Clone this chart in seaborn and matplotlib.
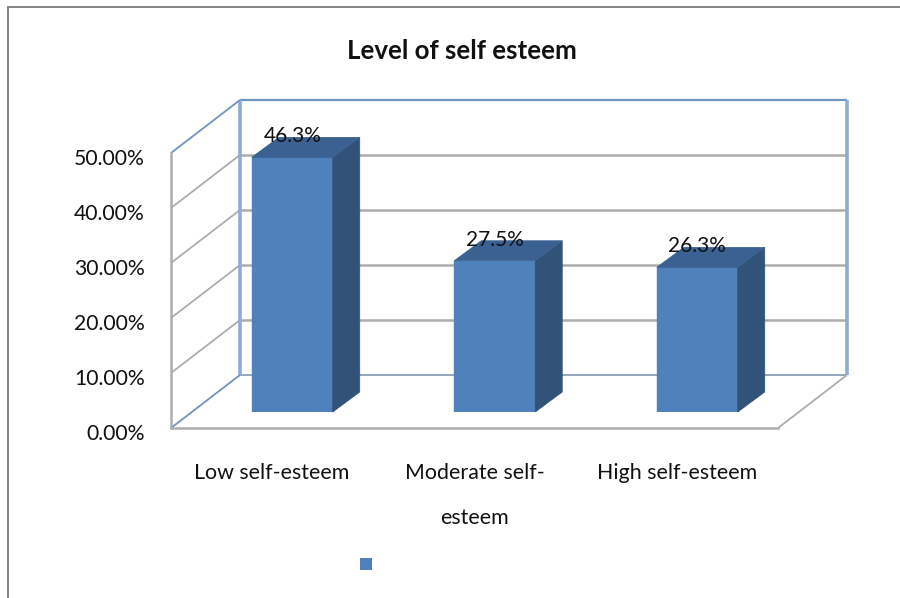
import matplotlib
matplotlib.use("Agg")
import matplotlib.pyplot as plt
import pandas as pd
import seaborn as sns
from matplotlib.lines import Line2D
from matplotlib.patches import Patch, Polygon
from matplotlib.transforms import ScaledTranslation

categories = ["Low self-esteem", "Moderate self-\nesteem", "High self-esteem"]
percent_values = [46.3, 27.5, 26.3]
percent_labels = ["46.3%", "27.5%", "26.3%"]
y_ticks = [0, 10, 20, 30, 40, 50]

FRONT = "#4f81bd"
SIDE = "#315379"
TOP = "#3b6192"
WALL_BLUE = "#8fadd4"
EDGE_BLUE = "#7094c0"
GRID = "#adadad"
FRAME = "#868686"
TEXT = "#111111"

W, H = 900, 598
sns.set_theme(style="white")
plt.rcParams["font.family"] = ["Lato", "DejaVu Sans"]

fig = plt.figure(figsize=(W / 100, H / 100), dpi=100, facecolor="white")


def axes_from_pixels(left, right, bottom, top):
    return fig.add_axes([left / W, 1 - bottom / H, (right - left) / W, (bottom - top) / H])


# Front plane of the box carries the tick labels; bars stand a little behind it.
ax_front = axes_from_pixels(171, 778, 428, 153)
ax_bars = axes_from_pixels(191, 798.5, 412, 137)
ax_bars.set_zorder(ax_front.get_zorder() + 1)
ax_bars.patch.set_alpha(0)

table = pd.DataFrame({"level": categories, "share": percent_values})
sns.barplot(data=table, x="level", y="share", color=FRONT, saturation=1,
            width=0.4, ax=ax_bars)
ax_bars.set_xlim(-0.5, 2.5)
ax_bars.set_ylim(0, 50)
ax_bars.axis("off")

# Extruded side and top faces, derived from each drawn bar.
bar_dx = 27 / 202.5
bar_dy = 20 / 5.5
for bar, text in zip(list(ax_bars.patches), percent_labels):
    x0, x1, h = bar.get_x(), bar.get_x() + bar.get_width(), bar.get_height()
    bar.set_edgecolor(FRONT)
    ax_bars.add_patch(Polygon([(x1, 0), (x1 + bar_dx, bar_dy), (x1 + bar_dx, h + bar_dy), (x1, h)],
                              closed=True, facecolor=SIDE, edgecolor=SIDE, lw=0.5, clip_on=False))
    ax_bars.add_patch(Polygon([(x0, h), (x0 + bar_dx, h + bar_dy), (x1 + bar_dx, h + bar_dy), (x1, h)],
                              closed=True, facecolor=TOP, edgecolor=TOP, lw=0.5, clip_on=False))
    ax_bars.annotate(text, ((x0 + x1) / 2, h), xytext=(0, 15.2), textcoords="offset points",
                     ha="center", va="center", fontsize=15, color=TEXT,
                     annotation_clip=False, zorder=6)

# Box walls and floor, in the value scale of the front plane.
ax_front.set_xlim(-0.5, 2.5)
ax_front.set_ylim(0, 50)
back_dx = 69 / 202.5
back_dy = 53 / 5.5
xl, xr = -0.5, 2.5


def wall_line(xs, ys, color, lw):
    ax_front.add_line(Line2D(xs, ys, color=color, lw=lw, clip_on=False, solid_capstyle="butt"))


for v in y_ticks[1:-1]:
    wall_line([xl + back_dx, xr + back_dx], [v + back_dy] * 2, GRID, 1.8)
    wall_line([xl, xl + back_dx], [v, v + back_dy], GRID, 1.3)
wall_line([xl + back_dx, xr + back_dx], [back_dy] * 2, "#93a6bd", 1.4)
wall_line([xl + back_dx, xr + back_dx], [50 + back_dy] * 2, EDGE_BLUE, 1.6)
wall_line([xl + back_dx] * 2, [back_dy, 50 + back_dy], WALL_BLUE, 2.6)
wall_line([xr + back_dx] * 2, [back_dy, 50 + back_dy], WALL_BLUE, 2.6)
wall_line([xl, xl + back_dx], [50, 50 + back_dy], EDGE_BLUE, 1.3)
wall_line([xl, xl + back_dx], [0, back_dy], EDGE_BLUE, 1.3)
wall_line([xr, xr + back_dx], [0, back_dy], GRID, 1.3)

for name, spine in ax_front.spines.items():
    spine.set_visible(name in ("left", "bottom"))
    spine.set_color(GRID)
    spine.set_linewidth(1.8)

ax_front.set_xticks(range(len(categories)))
ax_front.set_xticklabels(categories, fontsize=15.4, color=TEXT, linespacing=2.6)
ax_front.set_yticks(y_ticks)
ax_front.set_yticklabels([f"{v:.2f}%" for v in y_ticks], fontsize=15.2, color=TEXT)
ax_front.tick_params(axis="x", length=0, pad=25)
ax_front.tick_params(axis="y", length=0, pad=19)

# Value labels sit slightly below their nominal height.
nudge = ScaledTranslation(0, -4 / 100, fig.dpi_scale_trans)
for label in ax_front.get_yticklabels():
    label.set_transform(label.get_transform() + nudge)

fig.text(462 / W, 1 - 51 / H, "Level of self esteem", ha="center", va="center",
         fontsize=18.6, fontweight="bold", color=TEXT)

# Legend key without a visible series name.
fig.legend(handles=[Patch(facecolor=FRONT, edgecolor="none")], labels=[" "],
           loc="center", bbox_to_anchor=(368 / W, 1 - 564 / H), frameon=False,
           fontsize=10, handlelength=0.86, handleheight=1.0, handletextpad=0,
           borderpad=0, borderaxespad=0)

# Chart frame: only the top and left edges fall inside the canvas.
fig.add_artist(Line2D([8 / W, 8 / W], [0, 1 - 7 / H], color=FRAME, lw=1.4))
fig.add_artist(Line2D([8 / W, 1], [1 - 7 / H, 1 - 7 / H], color=FRAME, lw=1.4))

fig.savefig("out.png", dpi=100)
